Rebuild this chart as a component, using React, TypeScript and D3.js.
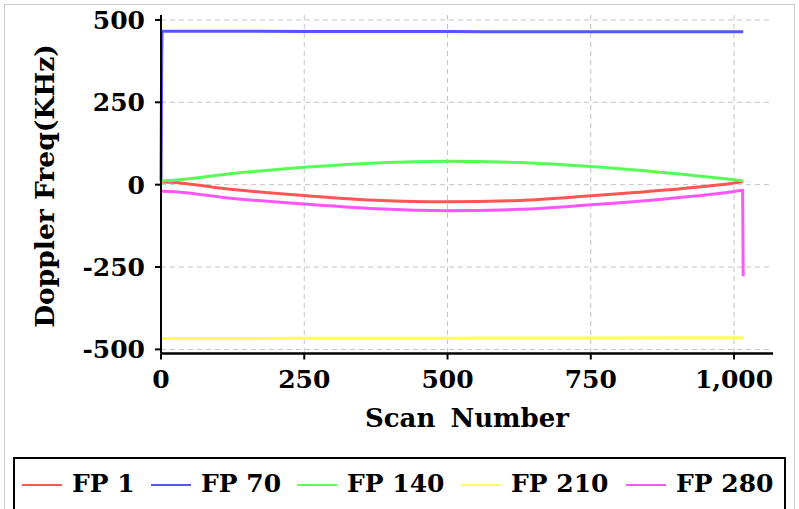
import React from "react";
import * as d3 from "d3";

const scans = [0, 2, 125, 250, 375, 500, 625, 750, 875, 1000, 1015, 1016];
const fp1 = [8, 8, -15, -33, -47, -52, -48, -34, -17, 5, 9, 9];
const fp70 = [12, 466, 466, 465, 465, 465, 464, 464, 464, 464, 464, 464];
const fp140 = [12, 12, 34, 53, 66, 71, 67, 55, 37, 15, 12, 12];
const fp210 = [-467, -467, -467, -466.5, -466, -466, -465.5, -465.5, -465, -465, -465, -465];
const fp280 = [-20, -20, -42, -59, -73, -79, -75, -61, -44, -21, -17, -278];

const seriesNames = ["FP 1", "FP 70", "FP 140", "FP 210", "FP 280"];
const seriesValues = [fp1, fp70, fp140, fp210, fp280];
const seriesColors = ["#ff5555", "#5555ff", "#55ff55", "#ffff55", "#ff55ff"];

const xTicks = [0, 250, 500, 750, 1000];
const yTicks = [-500, -250, 0, 250, 500];

const FONT = "'DejaVu Serif', serif";

export default function App() {
  const W = 799;
  const H = 509;
  const x = d3.scaleLinear().domain([0, 1068]).range([161, 773]);
  const y = d3.scaleLinear().domain([-512.5, 515]).range([353.5, 15]);
  const fmt = (v: number) => d3.format(",")(v).replace("\u2212", "-");
  const line = d3
    .line<[number, number]>()
    .x((d) => x(d[0]))
    .y((d) => y(d[1]))
    .curve(d3.curveMonotoneX);

  const legendX = [22, 151, 297, 461, 626];

  return (
    <svg
      width={W}
      height={H}
      style={{ position: "absolute", left: 0, top: 0, background: "#fff" }}
      fontFamily={FONT}
      fontWeight="bold"
    >
      <rect x={4.5} y={4.5} width={790} height={520} fill="none" stroke="#999" strokeDasharray="1,1" />
      {/* grid */}
      {yTicks.map((t) => (
        <line key={"gy" + t} x1={x(0)} x2={x(1068)} y1={y(t)} y2={y(t)} stroke="#c4c4c4" strokeWidth={1} strokeDasharray="5,4" />
      ))}
      {xTicks.map((t) => (
        <line key={"gx" + t} x1={x(t)} x2={x(t)} y1={y(515)} y2={y(-512.5)} stroke="#c4c4c4" strokeWidth={1} strokeDasharray="5,4" />
      ))}
      {/* series */}
      {seriesValues.map((vals, i) => (
        <path
          key={seriesNames[i]}
          d={line(scans.map((s, j) => [s, vals[j]] as [number, number])) || ""}
          fill="none"
          stroke={seriesColors[i]}
          strokeWidth={3}
        />
      ))}
      {/* axes */}
      <line x1={x(0)} x2={x(0)} y1={y(515)} y2={y(-512.5)} stroke="#000" strokeWidth={2} />
      <line x1={x(0)} x2={x(1068)} y1={y(-512.5)} y2={y(-512.5)} stroke="#000" strokeWidth={2.5} />
      {yTicks.map((t) => (
        <g key={"yt" + t}>
          <line x1={x(0) - 6} x2={x(0)} y1={y(t)} y2={y(t)} stroke="#000" strokeWidth={2} />
          <text x={145} y={y(t)} dy="0.36em" textAnchor="end" fontSize={25}>
            {fmt(t)}
          </text>
        </g>
      ))}
      {xTicks.map((t) => (
        <g key={"xt" + t}>
          <line x1={x(t)} x2={x(t)} y1={y(-512.5)} y2={y(-512.5) + 6} stroke="#000" strokeWidth={2} />
          <text x={x(t)} y={388} textAnchor="middle" fontSize={25}>
            {fmt(t)}
          </text>
        </g>
      ))}
      <text x={467} y={427} textAnchor="middle" fontSize={26} wordSpacing={6}>
        Scan Number
      </text>
      <text transform={`translate(54,186) rotate(-90)`} textAnchor="middle" fontSize={26.5}>
        Doppler Freq(KHz)
      </text>
      {/* legend */}
      <rect x={14} y={458} width={771} height={80} fill="none" stroke="#000" strokeWidth={2} />
      {seriesNames.map((n, i) => (
        <g key={"lg" + n}>
          <line x1={legendX[i]} x2={legendX[i] + 40} y1={485} y2={485} stroke={seriesColors[i]} strokeWidth={2} />
          <text x={legendX[i] + 50} y={492} fontSize={25}>
            {n}
          </text>
        </g>
      ))}
    </svg>
  );
}
